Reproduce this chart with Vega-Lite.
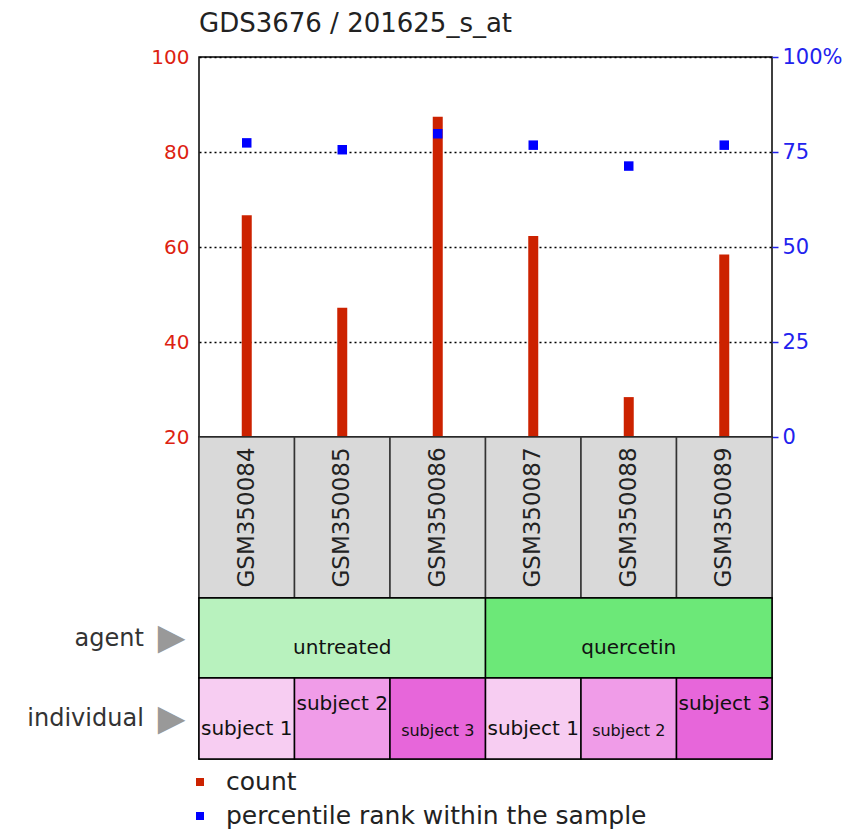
{
  "$schema": "https://vega.github.io/schema/vega-lite/v6.json",
  "padding": {"left": 26, "top": 10, "right": 5, "bottom": 5},
  "background": "white",
  "config": {"font": "DejaVu Sans", "view": {"stroke": "#000", "strokeWidth": 1.5}},
  "datasets": {
    "samples": [
      {"sample": "GSM350084", "count": 66.7, "percentile": 77.4, "agent": "untreated", "individual": "subject 1"},
      {"sample": "GSM350085", "count": 47.2, "percentile": 75.6, "agent": "untreated", "individual": "subject 2"},
      {"sample": "GSM350086", "count": 87.4, "percentile": 79.8, "agent": "untreated", "individual": "subject 3"},
      {"sample": "GSM350087", "count": 62.3, "percentile": 76.8, "agent": "quercetin", "individual": "subject 1"},
      {"sample": "GSM350088", "count": 28.4, "percentile": 71.3, "agent": "quercetin", "individual": "subject 2"},
      {"sample": "GSM350089", "count": 58.4, "percentile": 76.8, "agent": "quercetin", "individual": "subject 3"}
    ],
    "agents": [{"agent": "untreated"}, {"agent": "quercetin"}],
    "legend": [{"series": "count"}, {"series": "percentile rank within the sample"}]
  },
  "spacing": 0,
  "bounds": "flush",
  "resolve": {"scale": {"fill": "independent", "color": "independent"}},
  "vconcat": [
    {
      "width": 573,
      "height": 380,
      "title": {"text": "GDS3676 / 201625_s_at", "anchor": "start", "frame": "group", "fontSize": 26, "fontWeight": "normal", "color": "#222", "offset": 9},
      "data": {"name": "samples"},
      "encoding": {
        "x": {"field": "sample", "type": "nominal", "axis": null, "scale": {"paddingInner": 0, "paddingOuter": 0}}
      },
      "layer": [
        {
          "mark": {"type": "bar", "color": "#cc2200", "size": 10},
          "encoding": {
            "y": {
              "field": "count", "type": "quantitative",
              "scale": {"domain": [20, 100]},
              "axis": {"title": null, "values": [20, 40, 60, 80, 100], "labelColor": "#dd2211", "labelFontSize": 20, "ticks": false, "domain": false, "labelPadding": 10, "grid": true, "gridColor": "#000", "gridDash": [2, 3], "gridWidth": 1.5}
            },
            "y2": {"datum": 20}
          }
        },
        {
          "mark": {"type": "square", "color": "#0000ff", "size": 90, "opacity": 1, "filled": true},
          "encoding": {
            "y": {
              "field": "percentile", "type": "quantitative",
              "scale": {"domain": [0, 100]},
              "axis": {"orient": "right", "title": null, "values": [0, 25, 50, 75, 100], "labelExpr": "datum.value == 100 ? '100%' : datum.label", "labelColor": "#2222ee", "labelFontSize": 21, "tickColor": "#2222ee", "tickSize": 6, "tickWidth": 1.5, "labelPadding": 4, "domain": false, "grid": false}
            }
          }
        }
      ],
      "resolve": {"scale": {"y": "independent"}}
    },
    {
      "width": 573,
      "height": 161,
      "data": {"name": "samples"},
      "encoding": {
        "x": {"field": "sample", "type": "nominal", "axis": null, "scale": {"paddingInner": 0, "paddingOuter": 0}}
      },
      "layer": [
        {"mark": {"type": "rect", "fill": "#d9d9d9", "stroke": "#333", "strokeWidth": 1.5}},
        {"mark": {"type": "text", "angle": 270, "fontSize": 23, "color": "#222"}, "encoding": {"text": {"field": "sample"}}}
      ]
    },
    {
      "width": 573,
      "height": 80,
      "data": {"name": "agents"},
      "encoding": {
        "x": {"field": "agent", "type": "nominal", "axis": null, "sort": ["untreated", "quercetin"], "scale": {"paddingInner": 0, "paddingOuter": 0}},
        "y": {"datum": "agent", "type": "nominal", "scale": {"paddingInner": 0, "paddingOuter": 0},
          "axis": {"title": "agent", "titleAngle": 0, "titleAlign": "right", "titleBaseline": "middle", "titleFontSize": 24, "titleFontWeight": "normal", "titleColor": "#333", "titlePadding": 14, "labelExpr": "'▶'", "labelColor": "#999", "labelFontSize": 36, "ticks": false, "domain": false, "labelPadding": 14}}
      },
      "layer": [
        {"mark": {"type": "rect", "stroke": "#000", "strokeWidth": 1.5},
          "encoding": {"fill": {"field": "agent", "type": "nominal", "scale": {"domain": ["untreated", "quercetin"], "range": ["#b8f2be", "#6ce878"]}, "legend": null}}},
        {"mark": {"type": "text", "fontSize": 20, "color": "#111", "dy": 10}, "encoding": {"text": {"field": "agent"}}}
      ]
    },
    {
      "width": 573,
      "height": 81,
      "data": {"name": "samples"},
      "encoding": {
        "x": {"field": "sample", "type": "nominal", "axis": null, "scale": {"paddingInner": 0, "paddingOuter": 0}},
        "y": {"datum": "individual", "type": "nominal", "scale": {"paddingInner": 0, "paddingOuter": 0},
          "axis": {"title": "individual", "titleAngle": 0, "titleAlign": "right", "titleBaseline": "middle", "titleFontSize": 24, "titleFontWeight": "normal", "titleColor": "#333", "titlePadding": 14, "labelExpr": "'▶'", "labelColor": "#999", "labelFontSize": 36, "ticks": false, "domain": false, "labelPadding": 14}}
      },
      "layer": [
        {"mark": {"type": "rect", "stroke": "#000", "strokeWidth": 1.5},
          "encoding": {"fill": {"field": "individual", "type": "nominal", "scale": {"domain": ["subject 1", "subject 2", "subject 3"], "range": ["#f7cdf2", "#f09ce8", "#e766da"]}, "legend": null}}},
        {"transform": [{"filter": {"field": "sample", "oneOf": ["GSM350084", "GSM350087"]}}],
          "mark": {"type": "text", "fontSize": 20, "color": "#111", "dy": 10}, "encoding": {"text": {"field": "individual"}}},
        {"transform": [{"filter": {"field": "sample", "oneOf": ["GSM350085", "GSM350089"]}}],
          "mark": {"type": "text", "fontSize": 20, "color": "#111", "dy": -15}, "encoding": {"text": {"field": "individual"}}},
        {"transform": [{"filter": {"field": "sample", "oneOf": ["GSM350086", "GSM350088"]}}],
          "mark": {"type": "text", "fontSize": 16, "color": "#111", "dy": 12}, "encoding": {"text": {"field": "individual"}}}
      ]
    },
    {
      "width": 2,
      "height": 80,
      "view": {"stroke": null},
      "data": {"name": "legend"},
      "encoding": {
        "y": {"field": "series", "type": "nominal", "axis": null, "sort": ["count", "percentile rank within the sample"], "scale": {"padding": 0.676}}
      },
      "layer": [
        {"mark": {"type": "square", "size": 64, "filled": true, "opacity": 1},
          "encoding": {"color": {"field": "series", "type": "nominal", "scale": {"domain": ["count", "percentile rank within the sample"], "range": ["#cc2200", "#0000ff"]}, "legend": null}}},
        {"mark": {"type": "text", "align": "left", "dx": 26, "fontSize": 25, "color": "#222"}, "encoding": {"text": {"field": "series"}}}
      ]
    }
  ]
}
